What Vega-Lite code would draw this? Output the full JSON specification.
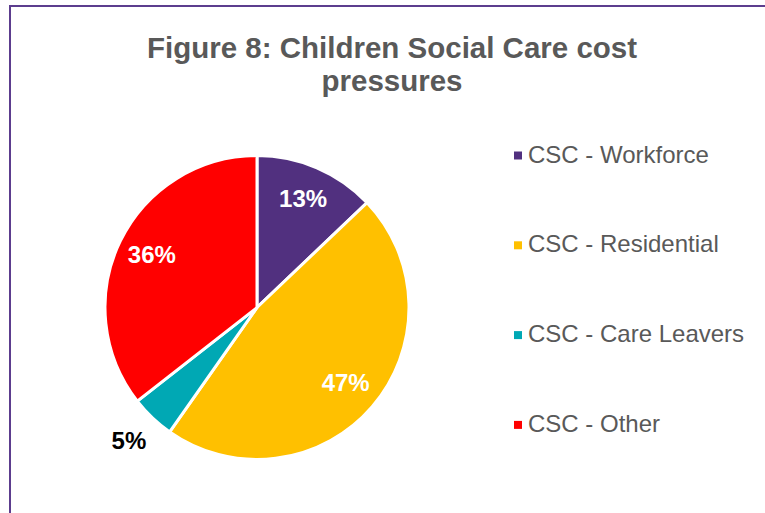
{
  "$schema": "https://vega.github.io/schema/vega-lite/v6.json",
  "width": 755,
  "height": 507,
  "autosize": {"type": "none"},
  "padding": {"left": 10, "top": 6, "right": 0, "bottom": 0},
  "background": "white",
  "view": {"stroke": "#5C3D8E", "strokeWidth": 2, "strokeDash": [755, 1262, 507], "strokeCap": "square", "fill": "white"},
  "config": {
    "font": "Liberation Sans"
  },
  "title": {
    "text": ["Figure 8: Children Social Care cost", "pressures"],
    "anchor": "middle",
    "frame": "group",
    "baseline": "top",
    "dy": 95,
    "dx": 4.5,
    "fontSize": 29.5,
    "fontWeight": "bold",
    "color": "#595959",
    "lineHeight": 33,
    "font": "Liberation Sans"
  },
  "data": {
    "values": [
      {"category": "CSC - Workforce", "share": 0.129, "order": 1},
      {"category": "CSC - Residential", "share": 0.469, "order": 2},
      {"category": "CSC - Care Leavers", "share": 0.047, "order": 3},
      {"category": "CSC - Other", "share": 0.356, "order": 4}
    ]
  },
  "encoding": {
    "theta": {"field": "share", "type": "quantitative", "stack": true},
    "order": {"field": "order", "type": "quantitative"},
    "detail": {"field": "category", "type": "nominal"}
  },
  "layer": [
    {
      "mark": {"type": "arc", "x": 247, "y": 301.5, "outerRadius": 152, "stroke": "white", "strokeWidth": 3},
      "encoding": {
        "color": {
          "field": "category",
          "type": "nominal",
          "scale": {
            "domain": ["CSC - Workforce", "CSC - Residential", "CSC - Care Leavers", "CSC - Other"],
            "range": ["#51307F", "#FFC000", "#00A8B4", "#FF0000"]
          },
          "legend": {
            "orient": "none",
            "legendX": 496,
            "legendY": 137.5,
            "title": null,
            "symbolType": "square",
            "symbolSize": 64,
            "symbolStrokeWidth": 0,
            "labelFontSize": 24,
            "labelColor": "#595959",
            "labelFont": "Liberation Sans",
            "labelLimit": 400,
            "rowPadding": 65.8,
            "labelOffset": -2,
            "padding": 0
          }
        }
      }
    },
    {
      "mark": {"type": "text", "x": 247, "y": 301.5, "radius": 117, "fontSize": 24, "fontWeight": "bold", "fill": "white", "font": "Liberation Sans"},
      "encoding": {
        "text": {
          "condition": {"test": "datum.category !== 'CSC - Care Leavers'", "field": "share", "type": "quantitative", "format": ".0%"},
          "value": ""
        }
      }
    },
    {
      "mark": {"type": "text", "x": 247, "y": 301.5, "radius": 186, "fontSize": 24, "fontWeight": "bold", "fill": "black", "font": "Liberation Sans"},
      "encoding": {
        "text": {
          "condition": {"test": "datum.category === 'CSC - Care Leavers'", "field": "share", "type": "quantitative", "format": ".0%"},
          "value": ""
        }
      }
    }
  ]
}
